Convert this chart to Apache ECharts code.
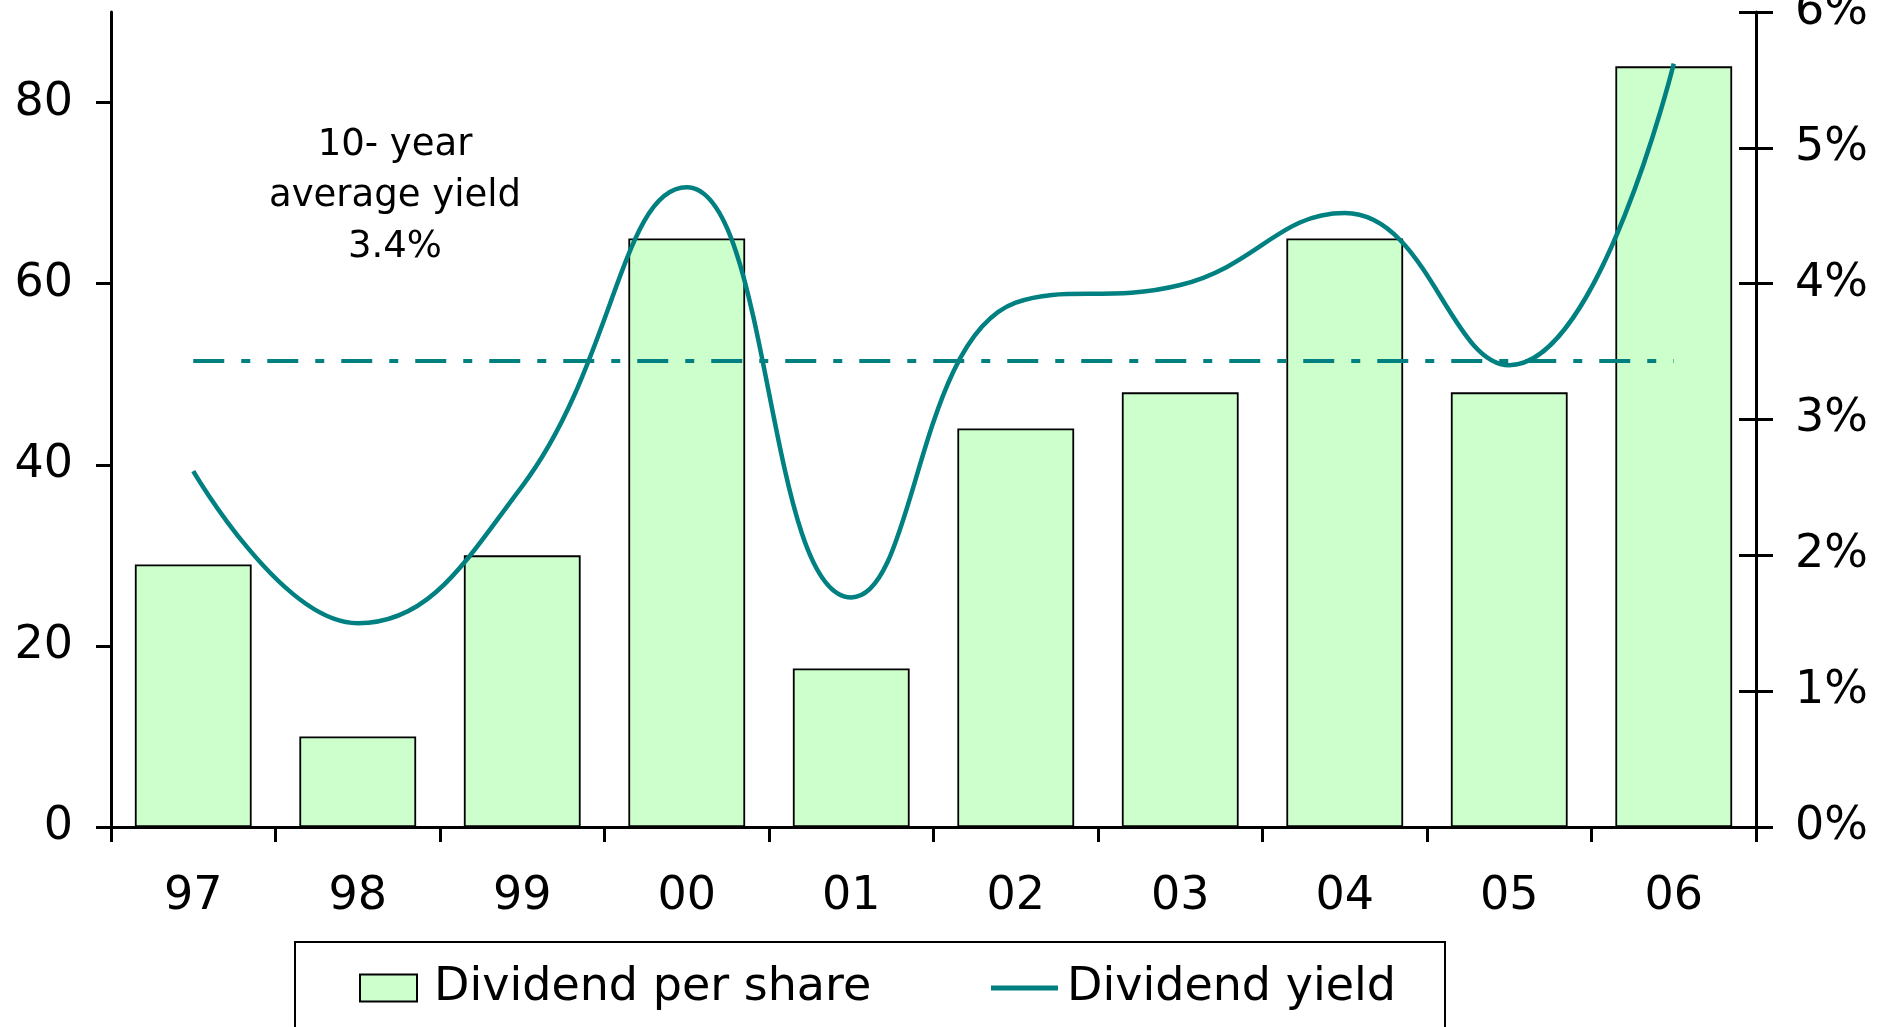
<!DOCTYPE html>
<html><head><meta charset="utf-8">
<script src="https://cdn.jsdelivr.net/npm/echarts@6/dist/echarts.min.js"></script>
<style>html,body{margin:0;padding:0;background:#fff}#c{width:1891px;height:1027px}</style>
</head><body><div id="c"></div>
<script>
const years = ['97','98','99','00','01','02','03','04','05','06'];
const dividendPerShare = [29, 10, 30, 65, 17.5, 44, 48, 65, 48, 84];
const dividendYield = [2.62, 1.50, 2.51, 4.71, 1.69, 3.86, 3.99, 4.52, 3.40, 5.62];
const avgYield = 3.43;
const leftTicks = [0, 20, 40, 60, 80];
const annotationLines = ['10- year', 'average yield', '3.4%'];
const seriesNames = ['Dividend per share', 'Dividend yield'];

const FONT = 'DejaVu Sans';
const chart = echarts.init(document.getElementById('c'), null, {renderer: 'canvas'});
const axisLine = {show: true, lineStyle: {color: '#000', width: 3}};
chart.setOption({
  animation: false,
  backgroundColor: '#fff',
  grid: {left: 111, right: 135, top: 12, bottom: 200, containLabel: false, outerBoundsMode: 'none'},
  legend: [
    {data: [seriesNames[0]], left: 359, top: 965, icon: 'rect', itemWidth: 57, itemHeight: 27, itemGap: 0, padding: 0,
     textStyle: {fontFamily: FONT, fontSize: 46, color: '#000', padding: [0, 0, 0, 12]}},
    {data: [seriesNames[1]], left: 991, top: 965, icon: 'rect', itemWidth: 67, itemHeight: 5, itemGap: 0, padding: 0,
     textStyle: {fontFamily: FONT, fontSize: 46, color: '#000', padding: [0, 0, 0, 4]}}
  ],
  xAxis: {
    type: 'category', data: years, boundaryGap: true,
    axisLine: axisLine,
    axisTick: {show: true, length: 15, lineStyle: {color: '#000', width: 3}},
    axisLabel: {fontFamily: FONT, fontSize: 46, color: '#000', margin: 47},
    splitLine: {show: false}
  },
  yAxis: [
    {type: 'value', min: 0, max: 90, interval: 20, position: 'left',
     axisLine: axisLine,
     axisTick: {show: true, length: 15, customValues: leftTicks, lineStyle: {color: '#000', width: 3}},
     axisLabel: {fontFamily: FONT, fontSize: 46, color: '#000', margin: 38, customValues: leftTicks},
     splitLine: {show: false}},
    {type: 'value', min: 0, max: 6, interval: 1, position: 'right',
     axisLine: axisLine,
     axisTick: {show: true, length: 17, lineStyle: {color: '#000', width: 3}},
     axisLabel: {fontFamily: FONT, fontSize: 46, color: '#000', margin: 39, formatter: '{value}%'},
     splitLine: {show: false}},
    {type: 'value', min: 0, max: 6, interval: 1, position: 'right',
     axisLine: {show: false},
     axisTick: {show: true, inside: true, length: 17, lineStyle: {color: '#000', width: 3}},
     axisLabel: {show: false},
     splitLine: {show: false}}
  ],
  series: [
    {name: seriesNames[0], type: 'bar', yAxisIndex: 0, data: dividendPerShare, barCategoryGap: '29%',
     itemStyle: {color: '#CCFFCC', borderColor: '#000', borderWidth: 1.8}},
    {name: seriesNames[1], type: 'line', yAxisIndex: 1, data: dividendYield, smooth: 0.45,
     showSymbol: false, symbol: 'none',
     itemStyle: {color: '#008080'},
     lineStyle: {color: '#008080', width: 4.5},
     markLine: {silent: true, symbol: ['none', 'none'], label: {show: false},
       lineStyle: {color: '#008080', width: 4, type: [31, 17, 9, 17]},
       data: [[{coord: [years[0], avgYield]}, {coord: [years[years.length - 1], avgYield]}]]}}
  ],
  graphic: [
    {type: 'text', x: 395, y: 120,
     style: {text: annotationLines.join('\n'), x: 0, y: 0, fill: '#000', font: '37px "DejaVu Sans"',
       align: 'center', textAlign: 'center', verticalAlign: 'top', textVerticalAlign: 'top', lineHeight: 51}},
    {type: 'rect', shape: {x: 295, y: 942, width: 1150, height: 200},
     style: {fill: 'none', stroke: '#000', lineWidth: 2}}
  ]
});
</script>
</body></html>
